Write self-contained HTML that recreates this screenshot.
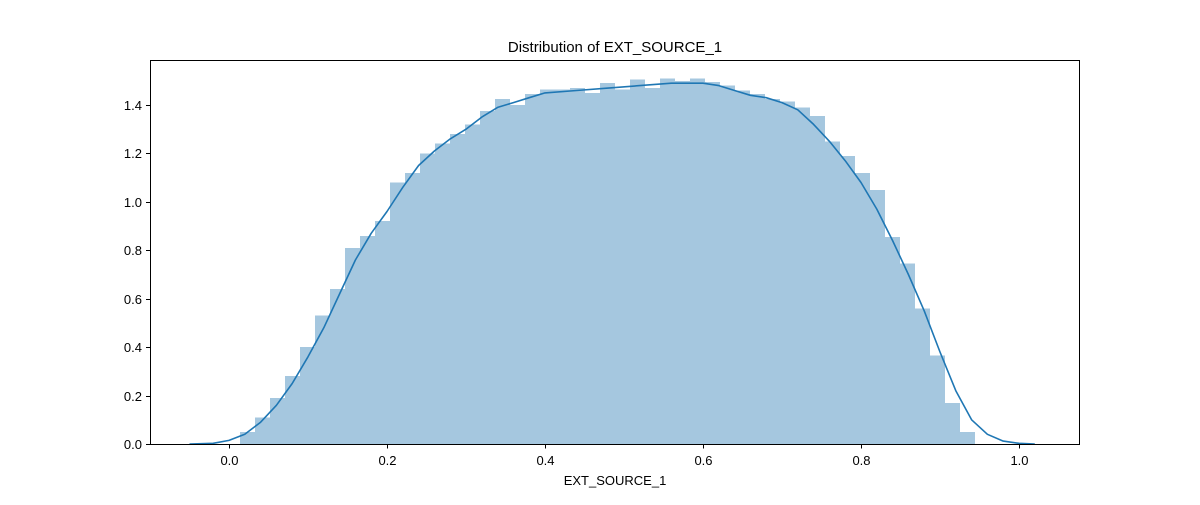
<!DOCTYPE html>
<html><head><meta charset="utf-8"><style>
body{margin:0;background:#fff;}
svg text{font-family:"Liberation Sans","DejaVu Sans",sans-serif;fill:#000;}
</style></head><body>
<svg id="chart" width="1200" height="500" xmlns="http://www.w3.org/2000/svg">
<text x="615" y="52" font-size="15" text-anchor="middle">Distribution of EXT_SOURCE_1</text>
<g id="bars" shape-rendering="crispEdges"></g>
<g id="kde"></g>
<rect x="150.5" y="60.5" width="929" height="384" fill="none" stroke="#000" stroke-width="1"/>
<g id="xaxis"></g>
<g id="yaxis"></g>
<text x="615" y="485" font-size="13" text-anchor="middle">EXT_SOURCE_1</text>
</svg>
<script>
const binStart = 0.0139;
const binWidth = 0.019;
const binHeights = [0.05,0.11,0.19,0.28,0.40,0.53,0.64,0.81,0.86,0.92,1.08,1.12,1.20,1.24,1.28,1.32,1.375,1.425,1.40,1.445,1.465,1.465,1.47,1.45,1.49,1.465,1.505,1.47,1.51,1.50,1.51,1.495,1.48,1.46,1.445,1.425,1.415,1.39,1.355,1.25,1.19,1.12,1.05,0.855,0.745,0.56,0.365,0.17,0.05];
const kdeX = [-0.05,-0.02,0.0,0.02,0.04,0.06,0.08,0.10,0.12,0.14,0.16,0.18,0.20,0.22,0.24,0.26,0.28,0.30,0.32,0.34,0.36,0.38,0.40,0.44,0.48,0.52,0.56,0.60,0.62,0.64,0.66,0.68,0.70,0.72,0.74,0.76,0.78,0.80,0.82,0.84,0.86,0.88,0.90,0.92,0.94,0.96,0.98,1.00,1.02];
const kdeY = [0.0,0.003,0.015,0.04,0.09,0.16,0.25,0.36,0.48,0.62,0.76,0.87,0.96,1.06,1.15,1.21,1.26,1.30,1.35,1.39,1.41,1.43,1.45,1.46,1.47,1.48,1.49,1.49,1.48,1.46,1.44,1.43,1.41,1.38,1.32,1.25,1.17,1.08,0.97,0.84,0.70,0.55,0.38,0.22,0.10,0.04,0.012,0.003,0.0];
const xTicks = [0.0,0.2,0.4,0.6,0.8,1.0];
const xTickLabels = ["0.0","0.2","0.4","0.6","0.8","1.0"];
const yTicks = [0.0,0.2,0.4,0.6,0.8,1.0,1.2,1.4];
const yTickLabels = ["0.0","0.2","0.4","0.6","0.8","1.0","1.2","1.4"];

const NS="http://www.w3.org/2000/svg";
const sx = v => 229 + v*790;
const sy = v => 444 - v*242.14;
function mk(tag, attrs, parent){const e=document.createElementNS(NS,tag);for(const k in attrs)e.setAttribute(k,attrs[k]);parent.appendChild(e);return e;}

const bars=document.getElementById('bars');
binHeights.forEach((h,i)=>{
  const x0=Math.round(sx(binStart+i*binWidth)), x1=Math.round(sx(binStart+(i+1)*binWidth));
  const r=mk('rect',{x:x0,y:sy(h),width:x1-x0,height:sy(0)-sy(h),fill:'#a5c7df'},bars);
  
  
});
const kde=document.getElementById('kde');
const pts=kdeX.map((x,i)=>sx(x).toFixed(1)+','+sy(kdeY[i]).toFixed(1)).join(' ');
const pl=mk('polyline',{points:pts,fill:'none',stroke:'#1f77b4','stroke-width':1.6,'stroke-linejoin':'round'},kde);



const xa=document.getElementById('xaxis');
xTicks.forEach((t,i)=>{
  const x=Math.round(sx(t))+0.5;
  const l=mk('line',{x1:x,x2:x,y1:444,y2:448.5,stroke:'#000'},xa);
  
  
  const tx=mk('text',{x:x,y:465,'font-size':13,'text-anchor':'middle'},xa);
  tx.textContent=xTickLabels[i];
  
  
});
const ya=document.getElementById('yaxis');
yTicks.forEach((t,i)=>{
  const y=Math.round(sy(t))+0.5;
  const l=mk('line',{x1:146,x2:150.5,y1:y,y2:y,stroke:'#000'},ya);
  
  
  const tx=mk('text',{x:142,y:y+4.5,'font-size':13,'text-anchor':'end'},ya);
  tx.textContent=yTickLabels[i];
  
  
});
</script>
</body></html>
